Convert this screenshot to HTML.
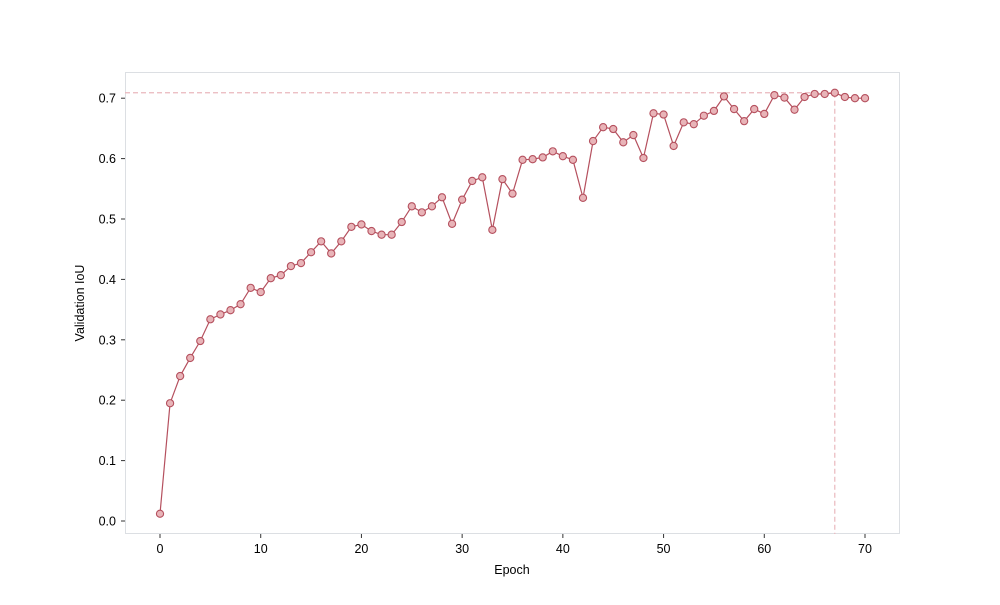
<!DOCTYPE html>
<html><head><meta charset="utf-8"><style>
body{margin:0;background:#fff}
svg text{font-family:"Liberation Sans","DejaVu Sans",sans-serif;font-size:12.5px;fill:#000}
</style></head><body>
<svg id="chart" width="1000" height="600" xmlns="http://www.w3.org/2000/svg">
<rect x="125.5" y="72.5" width="774" height="461" fill="none" stroke="#dcdfe3"/>
<g id="ticks"></g>
<g id="marks"></g>
<text x="512" y="574" text-anchor="middle">Epoch</text>
<text transform="translate(84,303) rotate(-90)" text-anchor="middle">Validation IoU</text>
</svg>
<script>
const epochs=[];for(let i=0;i<=70;i++)epochs.push(i);
const iou=[0.012,0.195,0.24,0.27,0.298,0.334,0.342,0.349,0.359,0.386,0.379,0.402,0.407,0.422,0.427,0.445,0.463,0.443,0.463,0.487,0.491,0.48,0.474,0.474,0.495,0.521,0.511,0.521,0.536,0.492,0.532,0.563,0.569,0.482,0.566,0.542,0.598,0.599,0.602,0.612,0.604,0.598,0.535,0.629,0.652,0.649,0.627,0.639,0.601,0.675,0.673,0.621,0.660,0.657,0.671,0.679,0.703,0.682,0.662,0.682,0.674,0.705,0.701,0.681,0.702,0.707,0.707,0.709,0.702,0.700,0.700];
const xTicks=[0,10,20,30,40,50,60,70];
const yTicks=[0,0.1,0.2,0.3,0.4,0.5,0.6,0.7];
const NS="http://www.w3.org/2000/svg";
const X=v=>160+v*(865-160)/70;
const Y=v=>521-v*604;
const tg=document.getElementById('ticks'),mg=document.getElementById('marks');
function mk(tag,attrs,parent){const e=document.createElementNS(NS,tag);for(const k in attrs)e.setAttribute(k,attrs[k]);parent.appendChild(e);return e;}
xTicks.forEach(t=>{
 const l=mk('line',{x1:X(t),x2:X(t),y1:534,y2:538,stroke:'#333'},tg);
 
 
 const tx=mk('text',{x:X(t),y:553,'text-anchor':'middle'},tg);tx.textContent=t;
 
 
});
yTicks.forEach(t=>{
 const l=mk('line',{x1:121,x2:125,y1:Y(t),y2:Y(t),stroke:'#333'},tg);
 
 
 const tx=mk('text',{x:116,y:Y(t)+4.5,'text-anchor':'end'},tg);tx.textContent=t.toFixed(1);
 
 
});
let bi=0;iou.forEach((v,i)=>{if(v>iou[bi])bi=i;});
const hl=mk('line',{x1:125,x2:X(epochs[bi]),y1:Y(iou[bi]),y2:Y(iou[bi]),stroke:'#eab8bd','stroke-dasharray':'5,3','stroke-width':1.2},mg);


const vl=mk('line',{x1:X(epochs[bi]),x2:X(epochs[bi]),y1:Y(iou[bi]),y2:534,stroke:'#eab8bd','stroke-dasharray':'5,3','stroke-width':1.2},mg);


const pl=mk('polyline',{points:epochs.map((e,i)=>X(e)+','+Y(iou[i])).join(' '),fill:'none',stroke:'#b5505e','stroke-width':1.2},mg);


epochs.forEach((e,i)=>{
 const c=mk('circle',{cx:X(e),cy:Y(iou[i]),r:3.6,fill:'#e8b4b8',stroke:'#b5505e','stroke-width':1.1},mg);
 
 
});
</script>
</body></html>
